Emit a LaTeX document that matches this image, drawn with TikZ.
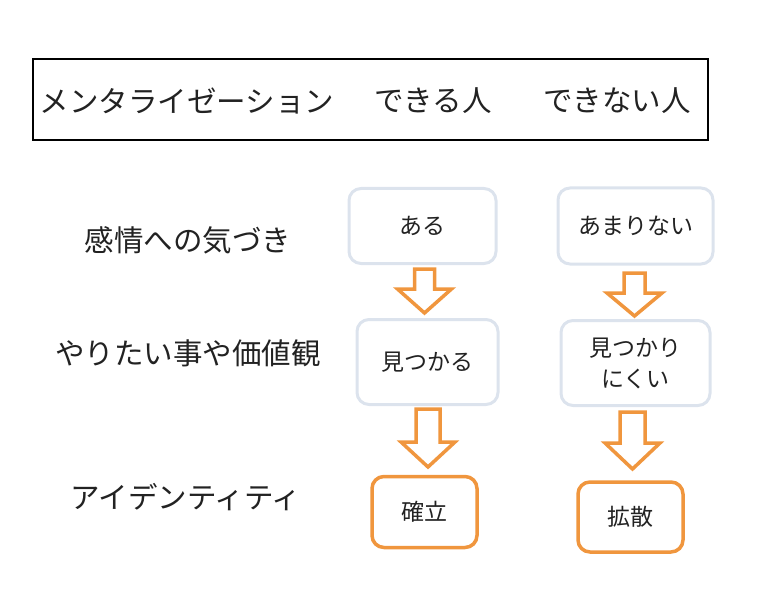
\documentclass[tikz,border=0pt]{standalone}
\usepackage{fontspec}
\setmainfont{Noto Sans CJK JP}
\definecolor{lightedge}{HTML}{DCE3ED}
\definecolor{orangeedge}{HTML}{F0963E}
\definecolor{txt}{HTML}{222222}
\tikzset{
  hdr/.style={font=\fontsize{29.5bp}{33bp}\selectfont, text=txt, inner sep=0pt, anchor=center},
  rowlabel/.style={font=\fontsize{29.5bp}{33bp}\selectfont, text=txt, inner sep=0pt, anchor=center},
  lbox/.style={draw=lightedge, line width=3bp, rounded corners=12bp, fill=white, align=center,
    font=\fontsize{23bp}{31bp}\selectfont, text=txt, inner sep=0pt},
  obox/.style={draw=orangeedge, line width=3.5bp, rounded corners=12bp, fill=white, align=center,
    font=\fontsize{23bp}{31bp}\selectfont, text=txt, inner sep=0pt},
  blockarrow/.style={draw=orangeedge, line width=3.5bp, fill=white, line join=miter}
}
\begin{document}
\begin{tikzpicture}[x=1bp,y=-1bp]
\useasboundingbox (0,0) rectangle (768,600);
% header
\node[draw=black, line width=2bp, minimum width=675bp, minimum height=81bp, inner sep=0pt] (head) at (370.5,100) {};
\node[hdr] (h1) at (187,101) {メンタライゼーション};
\node[hdr] (h2) at (433,101) {できる人};
\node[hdr] (h3) at (617,101) {できない人};
% row labels
\node[rowlabel] (r1) at (188,240) {感情への気づき};
\node[rowlabel] (r2) at (188,353) {やりたい事や価値観};
\node[rowlabel] (r3) at (186,497) {アイデンティティ};
% column 1
\node[lbox, minimum width=147bp, minimum height=75bp] (a1) at (422.5,226) {ある};
\node[lbox, minimum width=141bp, minimum height=85bp] (a2) at (427.5,362) {見つかる};
\node[obox, minimum width=105bp, minimum height=71bp] (a3) at (424.5,512) {確立};
% column 2
\node[lbox, minimum width=155bp, minimum height=76bp] (b1) at (635.5,226) {あまりない};
\node[lbox, minimum width=149bp, minimum height=85bp] (b2) at (635.5,363) {見つかり\\にくい};
\node[obox, minimum width=105bp, minimum height=70bp] (b3) at (630.5,517) {拡散};
% block arrows
\coordinate (p1) at (424.5,269);
\coordinate (p2) at (634.5,273);
\coordinate (p3) at (428,409);
\coordinate (p4) at (632.5,412);
\draw[blockarrow] (p1) ++(-10,0) -- ++(20,0) -- ++(0,20) -- ++(17,0) -- ++(-27,24) -- ++(-27,-24) -- ++(17,0) -- cycle;
\draw[blockarrow] (p2) ++(-10.5,0) -- ++(21,0) -- ++(0,20) -- ++(17,0) -- ++(-27.5,23) -- ++(-27.5,-23) -- ++(17,0) -- cycle;
\draw[blockarrow] (p3) ++(-12,0) -- ++(24,0) -- ++(0,33) -- ++(15,0) -- ++(-27,25) -- ++(-27,-25) -- ++(15,0) -- cycle;
\draw[blockarrow] (p4) ++(-12.5,0) -- ++(25,0) -- ++(0,31) -- ++(15,0) -- ++(-27.5,26) -- ++(-27.5,-26) -- ++(15,0) -- cycle;
\end{tikzpicture}
\end{document}
